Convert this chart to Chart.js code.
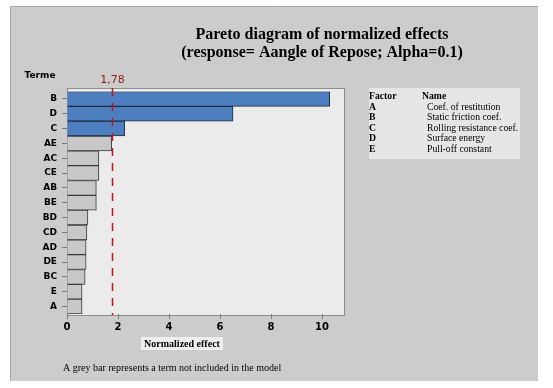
<!DOCTYPE html>
<html>
<head>
<meta charset="utf-8">
<script src="https://cdn.jsdelivr.net/npm/chart.js@4.4.1/dist/chart.umd.min.js"></script>
<style>
  html, body { margin: 0; padding: 0; background: #ffffff; }
  #wrap { width: 553px; height: 388px; position: relative; }
</style>
</head>
<body>
<div id="wrap"><canvas id="pareto"></canvas></div>
<script>
// terms, sorted by normalized effect
const terms = ['B', 'D', 'C', 'AE', 'AC', 'CE', 'AB', 'BE', 'BD', 'CD', 'AD', 'DE', 'BC', 'E', 'A'];
const effects = [10.3, 6.51, 2.26, 1.75, 1.25, 1.25, 1.15, 1.15, 0.82, 0.78, 0.75, 0.75, 0.71, 0.59, 0.59];
const inModel = ['B', 'D', 'C'];
const xTicks = [0, 2, 4, 6, 8, 10];
const critical = 1.78;
const criticalLabel = '1,78';

const factors = ['A', 'B', 'C', 'D', 'E'];
const factorNames = ['Coef. of restitution', 'Static friction coef.', 'Rolling resistance coef.', 'Surface energy', 'Pull-off constant'];

const titleLines = ['Pareto diagram of normalized effects', '(response= Aangle of Repose; Alpha=0.1)'];

const serif = '"Liberation Serif", "Times New Roman", serif';
const sans = '"DejaVu Sans", Tahoma, sans-serif';

// panel, plot box, title, legend table and notes
const decor = {
  id: 'decor',
  beforeDraw(chart) {
    const c = chart.ctx;
    const a = chart.chartArea;
    c.save();
    c.fillStyle = '#cccccc';
    c.fillRect(10, 6, 528, 375);
    c.strokeStyle = '#a8a8a8';
    c.lineWidth = 1;
    c.beginPath();
    c.moveTo(10.5, 381); c.lineTo(10.5, 6.5); c.lineTo(538, 6.5);
    c.stroke();

    // plot box
    c.fillStyle = '#ebebeb';
    c.fillRect(a.left, 88, a.right - a.left, 315 - 88);
    c.strokeStyle = '#8c8c8c';
    c.strokeRect(a.left + 0.5, 88.5, a.right - a.left - 1, 315 - 88);

    // legend table
    c.fillStyle = '#e6e6e6';
    c.fillRect(369, 88, 151, 71);
    c.restore();
  },
  afterDraw(chart) {
    const c = chart.ctx;
    const x = chart.scales.x;
    c.save();
    c.fillStyle = '#000';
    c.textAlign = 'center';
    c.textBaseline = 'middle';
    c.font = 'bold 16px ' + serif;
    c.fillText(titleLines[0], 322, 35);
    c.fillText(titleLines[1], 322, 53);

    c.font = 'bold 9px ' + sans;
    c.fillText('Terme', 40, 76);

    // critical line
    const xc = Math.round(x.getPixelForValue(critical)) + 0.5;
    c.strokeStyle = '#c0141c';
    c.lineWidth = 1.5;
    c.setLineDash([8, 7]);
    c.beginPath();
    c.moveTo(xc, 88);
    c.lineTo(xc, 315);
    c.stroke();
    c.setLineDash([]);
    c.fillStyle = '#8b1a1a';
    c.font = '11px ' + sans;
    c.fillText(criticalLabel, xc, 80);

    // x axis title
    c.fillStyle = '#eeeeee';
    c.fillRect(141, 337, 82, 13);
    c.fillStyle = '#000';
    c.font = 'bold 10px ' + serif;
    c.fillText('Normalized effect', 182, 344);

    c.textAlign = 'left';
    c.font = '10px ' + serif;
    c.fillText('A grey bar represents a term not included in the model', 63, 368);

    // legend table
    c.font = 'bold 9.7px ' + serif;
    c.fillText('Factor', 369, 96);
    c.fillText('Name', 422, 96);
    factors.forEach((f, i) => {
      const y = 107 + i * 10.6;
      c.font = 'bold 9.7px ' + serif;
      c.fillText(f, 369, y);
      c.font = '9.7px ' + serif;
      c.fillText(factorNames[i], 427, y);
    });
    c.restore();
  }
};

new Chart(document.getElementById('pareto'), {
  type: 'bar',
  data: {
    labels: terms,
    datasets: [{
      data: effects,
      backgroundColor: terms.map(t => inModel.includes(t) ? '#4d7fc0' : '#c8c8c8'),
      borderColor: terms.map(t => inModel.includes(t) ? '#1e2a3a' : '#3a3a3a'),
      borderWidth: 1,
      barPercentage: 1,
      categoryPercentage: 1
    }]
  },
  options: {
    indexAxis: 'y',
    responsive: true,
    maintainAspectRatio: false,
    animation: false,
    layout: { padding: { left: 0, right: 208, top: 91.5, bottom: 0 } },
    plugins: { legend: { display: false }, tooltip: { enabled: false } },
    scales: {
      x: {
        min: 0,
        max: 10.9,
        afterFit: s => { s.height = 74; },
        afterBuildTicks: s => { s.ticks = xTicks.map(v => ({ value: v })); },
        grid: { display: true, drawOnChartArea: false, drawTicks: true, tickLength: 5, color: '#7a7a7a' },
        border: { display: false },
        ticks: { color: '#000', font: { family: sans, size: 10, weight: 'bold' }, padding: 2, maxRotation: 0 }
      },
      y: {
        afterFit: s => { s.width = 67; },
        grid: { display: true, offset: false, drawOnChartArea: false, drawTicks: true, tickLength: 5, color: '#7a7a7a' },
        border: { display: false },
        ticks: { color: '#000', font: { family: sans, size: 9, weight: 'bold' }, padding: 5 }
      }
    }
  },
  plugins: [decor]
});
</script>
</body>
</html>
